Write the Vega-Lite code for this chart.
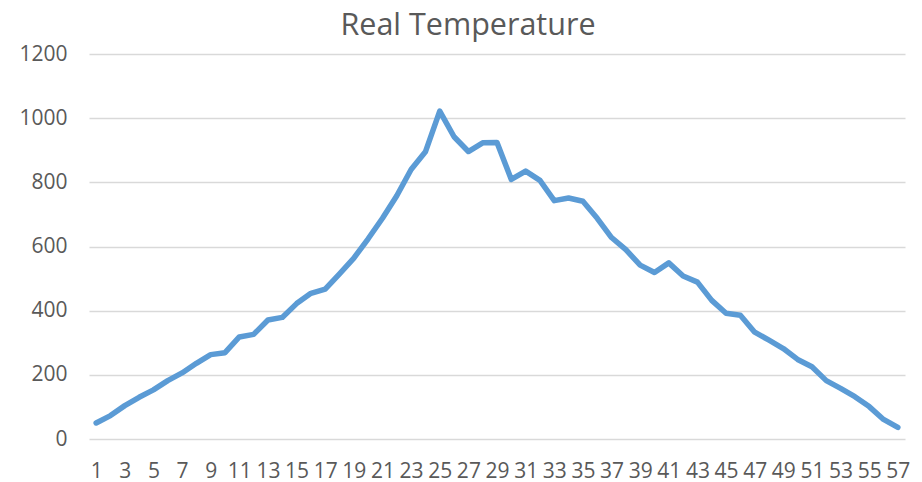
{
  "$schema": "https://vega.github.io/schema/vega-lite/v6.json",
  "autosize": "none",
  "width": 816,
  "height": 385,
  "padding": {"left": 89, "top": 54, "right": 17, "bottom": 43},
  "background": "white",
  "title": {"text": "Real Temperature", "font": "Open Sans", "fontSize": 30.5, "fontWeight": "normal", "color": "#595959", "baseline": "bottom", "offset": 12, "dx": -29, "dy": 40, "anchor": "middle"},
  "config": {"view": {"stroke": null}},
  "data": {"values": [
    {"n": 1, "t": 50}, {"n": 2, "t": 73}, {"n": 3, "t": 104}, {"n": 4, "t": 130}, {"n": 5, "t": 153},
    {"n": 6, "t": 182}, {"n": 7, "t": 206}, {"n": 8, "t": 236}, {"n": 9, "t": 263}, {"n": 10, "t": 269},
    {"n": 11, "t": 318}, {"n": 12, "t": 326}, {"n": 13, "t": 371}, {"n": 14, "t": 379}, {"n": 15, "t": 422},
    {"n": 16, "t": 454}, {"n": 17, "t": 467}, {"n": 18, "t": 515}, {"n": 19, "t": 564}, {"n": 20, "t": 624},
    {"n": 21, "t": 688}, {"n": 22, "t": 758}, {"n": 23, "t": 840}, {"n": 24, "t": 895}, {"n": 25, "t": 1022},
    {"n": 26, "t": 942}, {"n": 27, "t": 896}, {"n": 28, "t": 923}, {"n": 29, "t": 924}, {"n": 30, "t": 809},
    {"n": 31, "t": 835}, {"n": 32, "t": 806}, {"n": 33, "t": 743}, {"n": 34, "t": 751}, {"n": 35, "t": 741},
    {"n": 36, "t": 688}, {"n": 37, "t": 628}, {"n": 38, "t": 590}, {"n": 39, "t": 542}, {"n": 40, "t": 519},
    {"n": 41, "t": 549}, {"n": 42, "t": 508}, {"n": 43, "t": 489}, {"n": 44, "t": 432}, {"n": 45, "t": 392},
    {"n": 46, "t": 386}, {"n": 47, "t": 333}, {"n": 48, "t": 308}, {"n": 49, "t": 282}, {"n": 50, "t": 248},
    {"n": 51, "t": 225}, {"n": 52, "t": 182}, {"n": 53, "t": 158}, {"n": 54, "t": 132}, {"n": 55, "t": 101},
    {"n": 56, "t": 61}, {"n": 57, "t": 36}
  ]},
  "mark": {"type": "line", "color": "#5B9BD5", "strokeWidth": 5.5, "strokeJoin": "round", "strokeCap": "round"},
  "encoding": {
    "x": {
      "field": "n", "type": "ordinal", "title": null,
      "scale": {"type": "point", "padding": 0.5},
      "axis": {
        "values": [1,3,5,7,9,11,13,15,17,19,21,23,25,27,29,31,33,35,37,39,41,43,45,47,49,51,53,55,57],
        "labelAngle": 0, "labelFont": "Open Sans", "labelFontSize": 21, "labelColor": "#595959",
        "labelPadding": 21, "labelOverlap": false, "labelBound": false, "labelFlush": false,
        "domain": false, "ticks": false, "grid": false
      }
    },
    "y": {
      "field": "t", "type": "quantitative", "title": null,
      "scale": {"domain": [0, 1200], "nice": false},
      "axis": {
        "values": [0, 200, 400, 600, 800, 1000, 1200], "format": "d",
        "labelFont": "Open Sans", "labelFontSize": 21, "labelColor": "#595959",
        "labelPadding": 22, "domain": false, "ticks": false,
        "grid": true, "gridColor": "#D9D9D9", "gridWidth": 1.5
      }
    }
  }
}
